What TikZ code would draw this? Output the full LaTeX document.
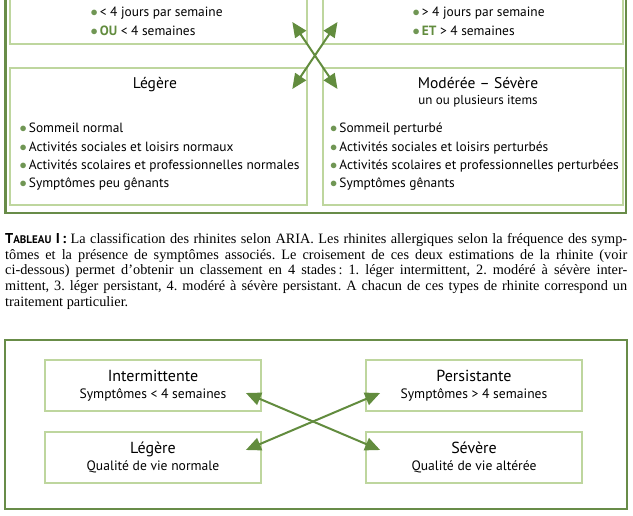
\documentclass[tikz,border=0pt]{standalone}
\usepackage{fontspec}
\setmainfont{PT Sans}
\newfontfamily\legendfont{Liberation Serif}
\newfontfamily\capfont{PT Sans}
\usepackage{xcolor}
\usetikzlibrary{arrows.meta, positioning, calc}

\definecolor{darkframe}{RGB}{104,140,72}
\definecolor{lightframe}{RGB}{190,214,158}
\definecolor{arrowgreen}{RGB}{98,140,62}
\definecolor{dotgreen}{RGB}{112,150,84}

\newcommand{\puce}{\textcolor{dotgreen}{$\bullet$}\hspace{2pt}}

\begin{document}
\begin{tikzpicture}[x=1pt, y=-1pt,
    every node/.style={inner sep=0pt, font=\fontsize{13.4}{18.3}\selectfont},
    outerbox/.style={draw=darkframe, line width=2.4pt},
    innerbox/.style={draw=lightframe, line width=1.8pt},
    smallbox/.style={innerbox, minimum width=216, minimum height=51, align=center, font=\fontsize{13.6}{17}\selectfont},
    dblarrow/.style={{Triangle[length=15pt,width=13pt]}-{Triangle[length=15pt,width=13pt]}, draw=arrowgreen, line width=2pt}]
    \fill[white] (0,0) rectangle (633,516);
    \clip (0,0) rectangle (633,516);

    % tableau du haut
    \draw[outerbox] (5.5,-10) -- (5.5,213) -- (626,213) -- (626,-10);
    \node[innerbox, minimum width=297, minimum height=60, anchor=south west] (freqInt) at (9,45) {};
    \node[innerbox, minimum width=300, minimum height=60, anchor=south west] (freqPers) at (322,45) {};
    \node[innerbox, minimum width=297, minimum height=137, anchor=north west] (sevLeg) at (9,67) {};
    \node[innerbox, minimum width=300, minimum height=137, anchor=north west] (sevMod) at (322,67) {};

    \node[anchor=north west, align=left] (freqIntTxt) at (90.5,7) {\puce< 4 jours par semaine\\ \puce\textcolor{arrowgreen}{\textbf{OU}} < 4 semaines};
    \node[anchor=north west, align=left] (freqPersTxt) at (412.5,7) {\puce> 4 jours par semaine\\ \puce\textcolor{arrowgreen}{\textbf{ET}} > 4 semaines};

    \node[anchor=base, font=\fontsize{15.5}{17}\selectfont] (sevLegTitre) at (155,89) {Légère};
    \node[anchor=base, font=\fontsize{15.5}{17}\selectfont] (sevModTitre) at (478,89) {Modérée – Sévère};
    \node[anchor=base, font=\fontsize{13}{17}\selectfont] (sevModSous) at (478,104.5) {un ou plusieurs items};

    \node[anchor=north west, align=left] (sevLegTxt) at (19.5,123) {\puce Sommeil normal\\ \puce Activités sociales et loisirs normaux\\ \puce Activités scolaires et professionnelles normales\\ \puce Symptômes peu gênants};
    \node[anchor=north west, align=left] (sevModTxt) at (330,123) {\puce Sommeil perturbé\\ \puce Activités sociales et loisirs perturbés\\ \puce Activités scolaires et professionnelles perturbées\\ \puce Symptômes gênants};

    \coordinate (h1) at ($(freqInt.south east)+(-15.5,-23)$);
    \coordinate (h2) at ($(freqPers.south west)+(15.5,-23)$);
    \coordinate (h3) at ($(sevLeg.north east)+(-15.5,22)$);
    \coordinate (h4) at ($(sevMod.north west)+(15.5,22)$);
    \draw[dblarrow] (h1) -- (h4);
    \draw[dblarrow] (h2) -- (h3);

    % légende
    \node[anchor=north west, text width=622, align=justify, font=\legendfont\fontsize{14.3}{15.8}\selectfont\frenchspacing] (legende) at (5,233)
      {{\capfont\bfseries T{\fontsize{11}{15.8}\selectfont ABLEAU} I\,:} La classification des rhinites selon ARIA. Les rhinites allergiques selon la fréquence des symp-\linebreak tômes et la présence de symptômes associés. Le croisement de ces deux estimations de la rhinite (voir\linebreak ci-dessous) permet d’obtenir un classement en 4 stades\,: 1. léger intermittent, 2. modéré à sévère inter-\linebreak mittent, 3. léger persistant, 4. modéré à sévère persistant. A chacun de ces types de rhinite correspond un\linebreak traitement particulier.};

    % schéma du bas
    \draw[outerbox] (5,340) rectangle (627,509);
    \node[smallbox] (boxInt) at (153,385.5) {{\fontsize{16}{17}\selectfont Intermittente}\\ Symptômes < 4 semaines};
    \node[smallbox] (boxPers) at (474,385.5) {{\fontsize{16}{17}\selectfont Persistante}\\ Symptômes > 4 semaines};
    \node[smallbox] (boxLeg) at (153,457.5) {{\fontsize{16}{17}\selectfont Légère}\\ Qualité de vie normale};
    \node[smallbox] (boxSev) at (474,457.5) {{\fontsize{16}{17}\selectfont Sévère}\\ Qualité de vie altérée};

    \coordinate (b1) at ($(boxInt.east)+(-16,7.5)$);
    \coordinate (b2) at ($(boxPers.west)+(15,7.5)$);
    \coordinate (b3) at ($(boxLeg.east)+(-16,-7.5)$);
    \coordinate (b4) at ($(boxSev.west)+(15,-7.5)$);
    \draw[dblarrow] (b1) -- (b4);
    \draw[dblarrow] (b3) -- (b2);
\end{tikzpicture}
\end{document}
